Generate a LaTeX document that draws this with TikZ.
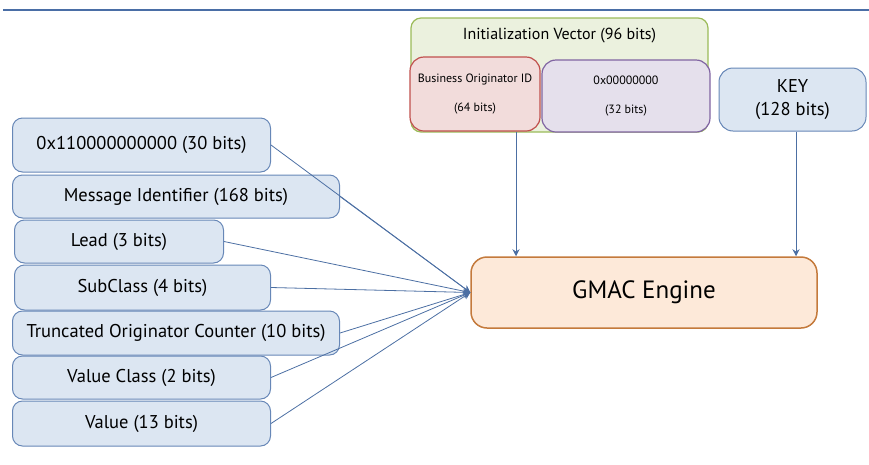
\documentclass[tikz,border=0pt]{standalone}
\usepackage{fontspec}
\setmainfont{PT Sans}
\usetikzlibrary{arrows.meta}
\definecolor{linkblue}{HTML}{4C6FA3}
\definecolor{ruleblue}{HTML}{4A6EA6}
\definecolor{fieldfill}{HTML}{DCE6F2}
\definecolor{fielddraw}{HTML}{6787B7}
\definecolor{ivfill}{HTML}{EBF1DE}
\definecolor{ivdraw}{HTML}{9BBB59}
\definecolor{boifill}{HTML}{F2DCDB}
\definecolor{boidraw}{HTML}{C0504D}
\definecolor{zerofill}{HTML}{E5E0EC}
\definecolor{zerodraw}{HTML}{8064A2}
\definecolor{gmacfill}{HTML}{FDE9D9}
\definecolor{gmacdraw}{HTML}{C47A3C}
\begin{document}
\begin{tikzpicture}[x=1pt,y=-1pt,
  box/.style={rectangle,rounded corners=10pt,inner sep=0pt,line width=1pt,align=center},
  field/.style={box,draw=fielddraw,fill=fieldfill,anchor=west,font=\fontsize{18.5}{22}\selectfont},
  link/.style={draw=linkblue,line width=0.8pt,-{Stealth[length=7pt,width=7pt]}}]
\useasboundingbox (0,0) rectangle (869,464);
\draw[ruleblue,line width=2.5pt] (3,10)--(869,10);
\node[box,draw=ivdraw,fill=ivfill,line width=1.2pt,minimum width=297pt,minimum height=114pt,
  label={[anchor=north,yshift=-7pt,font=\fontsize{16}{19}\selectfont]north:Initialization Vector (96 bits)}]
  (iv) at (559.5,75) {};
\node[box,draw=boidraw,fill=boifill,line width=1.2pt,rounded corners=14pt,minimum width=130pt,minimum height=74pt,
  font=\fontsize{12}{14}\selectfont] (boi) at (475,94) {Business Originator ID\\[15pt](64 bits)};
\node[box,draw=zerodraw,fill=zerofill,line width=1.2pt,rounded corners=14pt,minimum width=168pt,minimum height=72pt,
  font=\fontsize{12}{14}\selectfont] (zero) at (626,96) {0x00000000\\[15pt](32 bits)};
\node[box,draw=fielddraw,fill=fieldfill,rounded corners=14pt,minimum width=147pt,minimum height=63pt,
  font=\fontsize{18.5}{22}\selectfont] (key) at (792.5,99.5) {KEY\\[1pt](128 bits)};
\node[box,draw=gmacdraw,fill=gmacdraw!0!gmacfill,line width=1.5pt,rounded corners=16pt,minimum width=346pt,minimum height=71pt,
  font=\fontsize{25}{30}\selectfont] (gmac) at (644,292.5) {GMAC Engine};
\foreach \nm/\xx/\yy/\ww/\hh/\txt in {
    1/12/145/258/54/{0x110000000000 (30 bits)},
    2/12/196.5/327/43/{Message Identifier (168 bits)},
    3/14/241.5/209/43/{Lead (3 bits)},
    4/14/287.5/256/45/{SubClass (4 bits)},
    5/12/333/327/44/{Truncated Originator Counter (10 bits)},
    6/12/377.5/258/43/{Value Class (2 bits)},
    7/12/423.5/258/45/{Value (13 bits)}}{
  \node[field,minimum width=\ww pt,minimum height=\hh pt] (f\nm) at (\xx,\yy) {\txt};
}
\foreach \i in {1,...,7}{
  \draw[link] (f\i.east) -- (gmac.west);
}
\draw[link] ([xshift=41pt]boi.south) -- ([xshift=41pt]boi.south |- gmac.north);
\draw[link] ([xshift=3.5pt]key.south) -- ([xshift=3.5pt]key.south |- gmac.north);
\end{tikzpicture}
\end{document}
